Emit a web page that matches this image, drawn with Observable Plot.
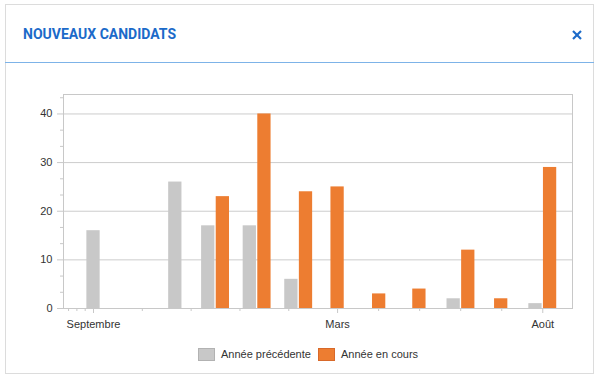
<!DOCTYPE html>
<html>
<head>
<meta charset="utf-8">
<script src="https://cdn.jsdelivr.net/npm/d3@7"></script>
<script src="https://cdn.jsdelivr.net/npm/@observablehq/plot@0.6"></script>
<style>
  html, body { margin: 0; padding: 0; background: #fff; width: 602px; height: 382px; overflow: hidden; }
  .abs { position: absolute; }
  #card { left: 5px; top: 4px; width: 589px; height: 370px; border: 1px solid #dcdcdc; box-sizing: border-box; }
  #title { left: 23px; top: 27px; font-family: Roboto, sans-serif; font-weight: 700; font-size: 14px; line-height: 14px; color: #1b6ac9; white-space: nowrap; }
  #sep { left: 5px; top: 62px; width: 589px; height: 1px; background: #7db3e8; }
  #close { left: 572px; top: 30px; }
  #chart { left: 0; top: 70px; }
  .sw { width: 17px; height: 13px; box-sizing: border-box; top: 348px; }
  .lt { top: 349px; font-family: "Liberation Sans", Arial, sans-serif; font-size: 11px; line-height: 11px; color: #333; white-space: nowrap; }
</style>
</head>
<body>
<div id="card" class="abs"></div>
<div id="title" class="abs">NOUVEAUX CANDIDATS</div>
<div id="sep" class="abs"></div>
<svg id="close" class="abs" width="10" height="10" viewBox="0 0 10 10">
  <line x1="1" y1="1" x2="9" y2="9" stroke="#1b6ac9" stroke-width="2.2"/>
  <line x1="9" y1="1" x2="1" y2="9" stroke="#1b6ac9" stroke-width="2.2"/>
</svg>
<div id="chart" class="abs"></div>
<div id="legend"></div>
<script>
// ---- Data ----
const dates = ["2023-09-01","2023-11-01","2023-12-01","2024-01-01","2024-02-01","2024-03-01","2024-04-01","2024-05-01","2024-06-01","2024-07-01","2024-08-01"];
const previousYear = [16, 26, 17, 17, 6, null, null, null, 2, null, 1];
const currentYear  = [null, null, 23, 40, 24, 25, 3, 4, 12, 2, 29];
const seriesNames = ["Année précédente", "Année en cours"];
const seriesColors = ["#c8c8c8", "#ed7d31"];
const seriesBorders = ["#b2b2b2", "#d8692a"];
const majorTickDates = ["2023-08-01","2023-09-01","2024-03-01","2024-08-01"];
const majorTickLabels = ["Août","Septembre","Mars","Août"];
const yMajorTicks = [0, 10, 20, 30, 40];

// ---- Layout helpers ----
const DAY = 864e5;
const BAR_DAYS = 9.9;
const HALF_GAP_DAYS = 0.5;
const xDomain = [new Date("2023-08-09T15:00Z"), new Date("2024-08-23T04:00Z")];
const inDomain = d => d >= xDomain[0] && d <= xDomain[1];

const rowsPrev = [], rowsCurr = [];
dates.forEach((s, i) => {
  const d = +new Date(s + "T00:00Z");
  const both = previousYear[i] != null && currentYear[i] != null;
  if (previousYear[i] != null) {
    rowsPrev.push(both
      ? {x1: new Date(d - (HALF_GAP_DAYS + BAR_DAYS) * DAY), x2: new Date(d - HALF_GAP_DAYS * DAY), value: previousYear[i]}
      : {x1: new Date(d - BAR_DAYS / 2 * DAY), x2: new Date(d + BAR_DAYS / 2 * DAY), value: previousYear[i]});
  }
  if (currentYear[i] != null) {
    rowsCurr.push(both
      ? {x1: new Date(d + HALF_GAP_DAYS * DAY), x2: new Date(d + (HALF_GAP_DAYS + BAR_DAYS) * DAY), value: currentYear[i]}
      : {x1: new Date(d - BAR_DAYS / 2 * DAY), x2: new Date(d + BAR_DAYS / 2 * DAY), value: currentYear[i]});
  }
});

const majors = majorTickDates.map(s => new Date(s + "T00:00Z"));
const labelOf = new Map(majors.map((d, i) => [+d, majorTickLabels[i]]));
const minors = [];
for (let i = 0; i < majors.length - 1; i++) {
  const a = +majors[i], b = +majors[i + 1];
  for (let k = 1; k < 5; k++) minors.push(new Date(a + (b - a) * k / 5));
}
const yMinorTicks = d3.range(0, 44, 10 / 3).filter(v => Math.abs(v / 10 - Math.round(v / 10)) > 1e-6);

const tickStroke = "#c8c8c8";
const chart = Plot.plot({
  width: 602,
  height: 270,
  marginTop: 24,
  marginLeft: 63,
  marginRight: 30,
  marginBottom: 32,
  x: {type: "utc", domain: xDomain, label: null},
  y: {domain: [0, 44], label: null},
  style: {fontFamily: "'Liberation Sans', Arial, sans-serif", fontSize: "11px", color: "#333", background: "transparent", overflow: "visible"},
  marks: [
    Plot.gridY(yMajorTicks.filter(v => v > 0), {stroke: "#cccccc", strokeOpacity: 1}),
    Plot.rectY(rowsPrev, {x1: "x1", x2: "x2", y: "value", fill: seriesColors[0]}),
    Plot.rectY(rowsCurr, {x1: "x1", x2: "x2", y: "value", fill: seriesColors[1]}),
    Plot.frame({stroke: tickStroke}),
    Plot.axisY(yMajorTicks, {tickSize: 6, tickPadding: 5, stroke: tickStroke, fill: "#333", label: null}),
    Plot.axisY(yMinorTicks, {tickSize: 3, stroke: tickStroke, fill: "none", label: null}),
    Plot.axisX(minors.filter(inDomain), {tickSize: 3, stroke: tickStroke, fill: "none", label: null}),
    Plot.axisX(majors.filter(inDomain), {tickSize: 5, tickPadding: 7, stroke: tickStroke, fill: "#333", label: null, tickFormat: d => labelOf.get(+d)})
  ]
});
document.getElementById("chart").appendChild(chart);

// ---- Legend ----
const legend = document.getElementById("legend");
const legendX = [198, 318];
seriesNames.forEach((name, i) => {
  const sw = document.createElement("div");
  sw.className = "abs sw";
  sw.style.left = legendX[i] + "px";
  sw.style.background = seriesColors[i];
  sw.style.border = "1px solid " + seriesBorders[i];
  legend.appendChild(sw);
  const t = document.createElement("div");
  t.className = "abs lt";
  t.style.left = (legendX[i] + 23) + "px";
  t.textContent = name;
  legend.appendChild(t);
});
</script>
</body>
</html>
